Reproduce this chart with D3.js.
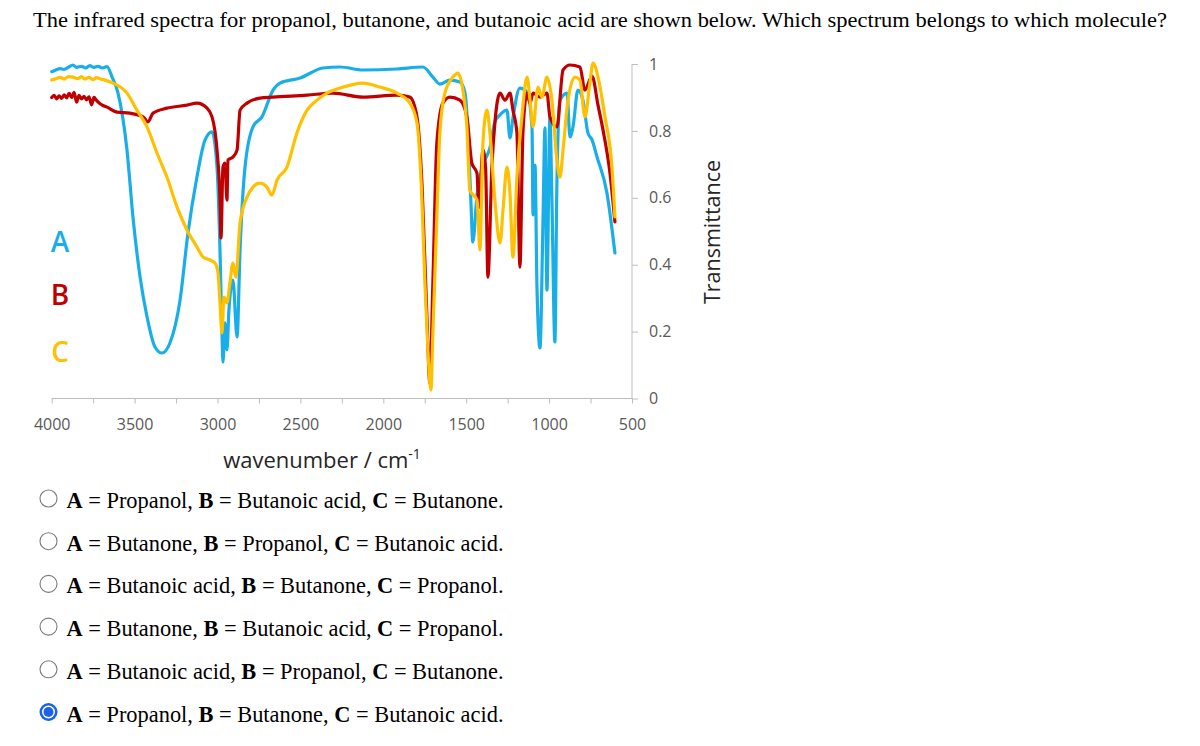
<!DOCTYPE html>
<html>
<head>
<meta charset="utf-8">
<script src="https://cdn.jsdelivr.net/npm/d3@7"></script>
<style>
  html, body { margin: 0; padding: 0; background: #ffffff; }
  svg { display: block; }
</style>
</head>
<body>
<svg id="chart" width="1200" height="746"></svg>
<script>
// ---------------- DATA ----------------
const questionText = "The infrared spectra for propanol, butanone, and butanoic acid are shown below. Which spectrum belongs to which molecule?";
const wavenumberTicks = [4000, 3500, 3000, 2500, 2000, 1500, 1000, 500];
const wavenumberMinorTicks = [4000, 3750, 3500, 3250, 3000, 2750, 2500, 2250, 2000, 1750, 1500, 1250, 1000, 750, 500];
const transmittanceTicks = [0, 0.2, 0.4, 0.6, 0.8, 1];
const seriesNames = ["A", "B", "C"];
const seriesColors = ["#1AAEE8", "#C00000", "#FFC000"];

// [wavenumber (cm-1), transmittance]
const spectrumA = [[4000,0.977],[3975,0.982],[3950,0.986],[3925,0.984],[3900,0.99],[3872,0.997],[3850,0.99],[3820,0.993],[3795,0.988],[3770,0.995],[3745,0.99],[3720,0.993],[3695,0.988],[3666,0.992],[3636,0.961],[3600,0.913],[3546,0.743],[3510,0.543],[3467,0.363],[3425,0.244],[3377,0.154],[3335,0.136],[3287,0.166],[3226,0.294],[3178,0.495],[3124,0.662],[3075,0.773],[3033,0.797],[3003,0.692],[2985,0.444],[2973,0.196],[2967,0.109],[2955,0.226],[2943,0.145],[2931,0.265],[2907,0.354],[2882,0.184],[2864,0.444],[2834,0.692],[2786,0.812],[2732,0.842],[2665,0.922],[2623,0.943],[2502,0.958],[2364,0.988],[2261,0.991],[2123,0.982],[1918,0.985],[1761,0.991],[1701,0.961],[1659,0.940],[1598,0.952],[1538,0.946],[1508,0.916],[1490,0.803],[1472,0.593],[1460,0.468],[1435,0.608],[1399,0.698],[1357,0.749],[1327,0.827],[1296,0.848],[1254,0.862],[1236,0.779],[1218,0.839],[1176,0.928],[1133,0.916],[1103,0.809],[1097,0.549],[1085,0.698],[1073,0.330],[1055,0.151],[1037,0.528],[1025,0.809],[1013,0.324],[995,0.842],[983,0.593],[965,0.169],[953,0.644],[934,0.892],[892,0.913],[874,0.782],[856,0.812],[826,0.922],[796,0.892],[766,0.794],[741,0.773],[711,0.722],[651,0.614],[603,0.435]];

const spectrumB = [[4000,0.9],[3985,0.906],[3970,0.896],[3955,0.905],[3940,0.897],[3925,0.908],[3910,0.899],[3895,0.912],[3880,0.9],[3865,0.915],[3850,0.886],[3835,0.906],[3820,0.896],[3805,0.903],[3790,0.893],[3775,0.902],[3760,0.878],[3745,0.9],[3730,0.891],[3710,0.882],[3690,0.876],[3666,0.871],[3606,0.856],[3528,0.853],[3449,0.842],[3419,0.827],[3389,0.853],[3305,0.868],[3184,0.877],[3124,0.883],[3063,0.868],[3033,0.842],[3003,0.743],[2985,0.593],[2979,0.480],[2967,0.692],[2955,0.704],[2943,0.593],[2937,0.713],[2907,0.722],[2882,0.743],[2864,0.862],[2822,0.883],[2744,0.898],[2665,0.901],[2460,0.907],[2303,0.913],[2123,0.901],[1918,0.907],[1840,0.901],[1797,0.842],[1767,0.644],[1737,0.244],[1719,0.046],[1701,0.345],[1677,0.764],[1641,0.883],[1598,0.901],[1538,0.892],[1496,0.842],[1466,0.704],[1435,0.674],[1423,0.572],[1399,0.743],[1383,0.69],[1369,0.363],[1345,0.692],[1327,0.824],[1296,0.913],[1266,0.892],[1236,0.913],[1218,0.862],[1194,0.794],[1176,0.393],[1158,0.794],[1133,0.913],[1115,0.883],[1097,0.913],[1055,0.901],[1013,0.913],[995,0.842],[953,0.812],[916,0.982],[874,0.997],[814,0.991],[784,0.922],[741,0.964],[705,0.877],[675,0.803],[633,0.674],[603,0.528]];

const spectrumC = [[4000,0.952],[3975,0.956],[3950,0.96],[3925,0.955],[3900,0.962],[3872,0.961],[3845,0.956],[3820,0.962],[3800,0.955],[3775,0.96],[3750,0.953],[3730,0.959],[3709,0.956],[3630,0.943],[3546,0.913],[3486,0.862],[3425,0.812],[3365,0.734],[3305,0.662],[3244,0.572],[3184,0.504],[3124,0.453],[3087,0.423],[3045,0.414],[3015,0.405],[2997,0.375],[2985,0.286],[2973,0.196],[2961,0.303],[2943,0.286],[2925,0.345],[2907,0.405],[2889,0.363],[2864,0.525],[2822,0.602],[2786,0.632],[2744,0.644],[2702,0.632],[2672,0.608],[2641,0.653],[2581,0.692],[2521,0.794],[2460,0.862],[2400,0.892],[2340,0.913],[2261,0.928],[2123,0.943],[2020,0.931],[1918,0.913],[1840,0.883],[1797,0.824],[1767,0.593],[1749,0.345],[1731,0.145],[1713,0.025],[1701,0.196],[1677,0.543],[1659,0.794],[1629,0.913],[1580,0.961],[1550,0.973],[1520,0.922],[1496,0.812],[1478,0.623],[1435,0.593],[1417,0.444],[1399,0.764],[1375,0.862],[1357,0.794],[1327,0.593],[1296,0.465],[1278,0.564],[1254,0.692],[1236,0.614],[1218,0.423],[1194,0.662],[1164,0.842],[1133,0.961],[1115,0.892],[1097,0.812],[1067,0.931],[1043,0.901],[1013,0.961],[983,0.892],[953,0.713],[934,0.662],[916,0.743],[886,0.892],[844,0.961],[814,0.952],[784,0.842],[754,0.943],[735,1.003],[705,0.961],[663,0.842],[621,0.692],[603,0.543]];

const answerOptions = [
  ["Propanol", "Butanoic acid", "Butanone"],
  ["Butanone", "Propanol", "Butanoic acid"],
  ["Butanoic acid", "Butanone", "Propanol"],
  ["Butanone", "Butanoic acid", "Propanol"],
  ["Butanoic acid", "Propanol", "Butanone"],
  ["Propanol", "Butanone", "Butanoic acid"]
];
const selectedOption = 5;

// ---------------- DRAWING ----------------
const svg = d3.select("#chart");
svg.append("rect").attr("width", 1200).attr("height", 746).attr("fill", "#ffffff");

const sansFont = "'Open Sans', 'Noto Sans', sans-serif";
const serifFont = "'Liberation Serif', 'DejaVu Serif', serif";

// Question text
svg.append("text")
  .attr("x", 33).attr("y", 27)
  .attr("font-family", serifFont).attr("font-size", 21)
  .attr("fill", "#000")
  .attr("textLength", 1134).attr("lengthAdjust", "spacingAndGlyphs")
  .text(questionText);

const x = d3.scaleLinear().domain([4000, 500]).range([51.7, 632]);
const y = d3.scaleLinear().domain([0, 1]).range([398.5, 64]);
const axisColor = "#bdbdbd";
const tickTextColor = "#595959";

// X axis
const xAxis = svg.append("g")
  .attr("transform", `translate(0,${y(0)})`)
  .call(d3.axisBottom(x).tickValues(wavenumberMinorTicks).tickSize(5).tickPadding(15)
    .tickFormat(d => wavenumberTicks.includes(d) ? d : ""));
xAxis.select(".domain").attr("stroke", axisColor).attr("d", `M${x(4000)},0H${x(500)}`);
xAxis.selectAll(".tick line").attr("stroke", axisColor);
xAxis.selectAll(".tick text").attr("fill", tickTextColor)
  .attr("font-family", sansFont).attr("font-size", 16);

// Y axis (right side)
const yAxis = svg.append("g")
  .attr("transform", `translate(${x(500)},0)`)
  .call(d3.axisRight(y).tickValues(transmittanceTicks).tickSize(6).tickPadding(11)
    .tickFormat(d => d === 0 || d === 1 ? d3.format("d")(d) : d3.format(".1f")(d)));
yAxis.select(".domain").attr("stroke", axisColor).attr("d", `M0,${y(0)}V${y(1)}`);
yAxis.selectAll(".tick line").attr("stroke", axisColor);
yAxis.selectAll(".tick text").attr("fill", tickTextColor)
  .attr("font-family", sansFont).attr("font-size", 16);

// Axis titles
const xTitle = svg.append("text")
  .attr("x", 322).attr("y", 468)
  .attr("text-anchor", "middle")
  .attr("font-family", sansFont).attr("font-size", 22)
  .attr("fill", "#262626");
xTitle.append("tspan").text("wavenumber / cm");
xTitle.append("tspan").attr("dy", -9).attr("font-size", 14).text("-1");

svg.append("text")
  .attr("transform", "translate(720,232) rotate(-90)")
  .attr("text-anchor", "middle")
  .attr("font-family", sansFont).attr("font-size", 21.5)
  .attr("fill", "#262626")
  .text("Transmittance");

// Spectra
const line = d3.line()
  .x(d => x(d[0]))
  .y(d => y(d[1]))
  .curve(d3.curveMonotoneX);

[spectrumA, spectrumB, spectrumC].forEach((s, i) => {
  svg.append("path")
    .datum(s)
    .attr("fill", "none")
    .attr("stroke", seriesColors[i])
    .attr("stroke-width", 3.2)
    .attr("stroke-linejoin", "round")
    .attr("stroke-linecap", "round")
    .attr("d", line);
});

// Series labels A, B, C
const labelBaselines = [252, 305, 362];
seriesNames.forEach((n, i) => {
  svg.append("text")
    .attr("x", 60).attr("y", labelBaselines[i])
    .attr("text-anchor", "middle")
    .attr("font-family", sansFont).attr("font-size", 28).attr("font-weight", 600)
    .attr("fill", seriesColors[i])
    .text(n);
});

// Answer options
const rowY0 = 508, rowStep = 42.7;
answerOptions.forEach((opt, i) => {
  const cy = rowY0 + i * rowStep - 9.5;
  if (i === selectedOption) {
    svg.append("circle").attr("cx", 48.5).attr("cy", cy).attr("r", 9)
      .attr("fill", "#1a62e8");
    svg.append("circle").attr("cx", 48.5).attr("cy", cy).attr("r", 6.5).attr("fill", "#ffffff");
    svg.append("circle").attr("cx", 48.5).attr("cy", cy).attr("r", 5).attr("fill", "#1a62e8");
  } else {
    svg.append("circle").attr("cx", 48.5).attr("cy", cy).attr("r", 8.5)
      .attr("fill", "#ffffff").attr("stroke", "#7a7a7a").attr("stroke-width", 1.1);
  }
  const t = svg.append("text")
    .attr("x", 66.5).attr("y", rowY0 + i * rowStep)
    .attr("font-family", serifFont).attr("font-size", 22.5)
    .attr("fill", "#000")
    .attr("textLength", 437).attr("lengthAdjust", "spacingAndGlyphs");
  opt.forEach((name, k) => {
    t.append("tspan").attr("font-weight", "bold").text(seriesNames[k]);
    t.append("tspan").text(" = " + name + (k < 2 ? ", " : "."));
  });
});
</script>
</body>
</html>
